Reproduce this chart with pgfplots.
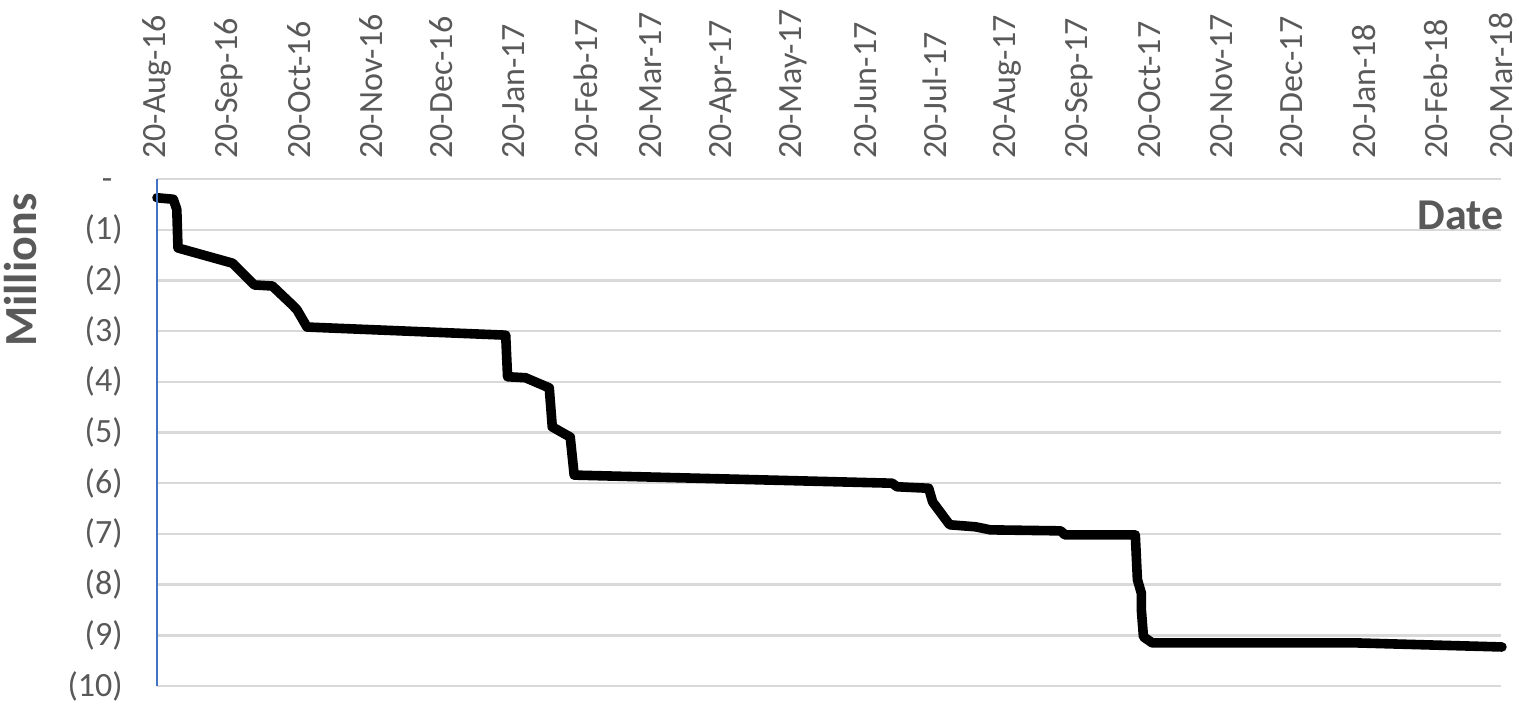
\documentclass[border=0pt]{standalone}
\usepackage{fontspec}
\setmainfont{Carlito}
\usepackage{pgfplots}
\pgfplotsset{compat=1.18}
\usetikzlibrary{calc}
\definecolor{labelgray}{RGB}{89,89,89}
\definecolor{gridgray}{RGB}{217,217,217}
\definecolor{axisblue}{RGB}{68,114,196}

\begin{document}
\begin{tikzpicture}
\begin{axis}[
    scale only axis,
    width=672pt,height=253.5pt,
    xmin=0,xmax=577,
    ymin=-10,ymax=0,
    axis line style={draw=none},
    major tick length=0pt,
    % days since 20-Aug-16
    xtick={0,31,61,92,122,153,184,212,243,273,304,334,365,396,426,457,487,518,549,577},
    xticklabels={20-Aug-16,20-Sep-16,20-Oct-16,20-Nov-16,20-Dec-16,20-Jan-17,20-Feb-17,20-Mar-17,20-Apr-17,20-May-17,20-Jun-17,20-Jul-17,20-Aug-17,20-Sep-17,20-Oct-17,20-Nov-17,20-Dec-17,20-Jan-18,20-Feb-18,20-Mar-18},
    xticklabel pos=upper,
    x tick label style={rotate=90,anchor=west,inner xsep=10pt},
    ytick={-10,-9,-8,-7,-6,-5,-4,-3,-2,-1,0},
    yticklabels={(10),(9),(8),(7),(6),(5),(4),(3),(2),(1),-\phantom{)}},
    y tick label style={anchor=east,inner xsep=17pt},
    tick label style={font=\fontsize{17}{19}\selectfont,text=labelgray},
    ymajorgrids,
    grid style={draw=gridgray,line width=1.2pt},
    clip=false,
]
\addplot[black,line width=4.8pt,line join=round,line cap=round] coordinates {
  (0,-0.37)(7,-0.40)(8.5,-0.6)(9,-1.36)(32.4,-1.66)(41.8,-2.09)(49.5,-2.11)
  (58,-2.48)(60.1,-2.58)(64.4,-2.92)(149.7,-3.08)(150.5,-3.90)(158.2,-3.92)
  (168.4,-4.12)(169.7,-4.89)(177.4,-5.09)(179.1,-5.84)(315.6,-6.00)(317.7,-6.07)
  (331.3,-6.10)(333,-6.37)(340.3,-6.82)(351.4,-6.86)(357.8,-6.92)(388,-6.94)
  (389.8,-7.02)(420,-7.02)(420.9,-7.90)(422.6,-8.17)(422.6,-8.50)(423.5,-9.03)
  (427.3,-9.15)(515,-9.15)(577.4,-9.23)
};
\draw[axisblue,line width=1pt] (rel axis cs:0,0) -- (rel axis cs:0,1);
\node[anchor=east,inner sep=0pt,font=\bfseries\fontsize{22}{24}\selectfont,text=labelgray]
  at (rel axis cs:1.002,0.929) {Date};
\coordinate (mil) at (rel axis cs:0,0.82);
\end{axis}
\node[rotate=90,inner sep=0pt,font=\bfseries\fontsize{23}{25}\selectfont,text=labelgray]
  at ($(mil)+(-68pt,0)$) {Millions};
\pgfresetboundingbox
\path ($(current axis.south west)+(-78.5pt,-8.5pt)$) rectangle ($(current axis.north east)+(9pt,89.5pt)$);
\end{tikzpicture}
\end{document}
